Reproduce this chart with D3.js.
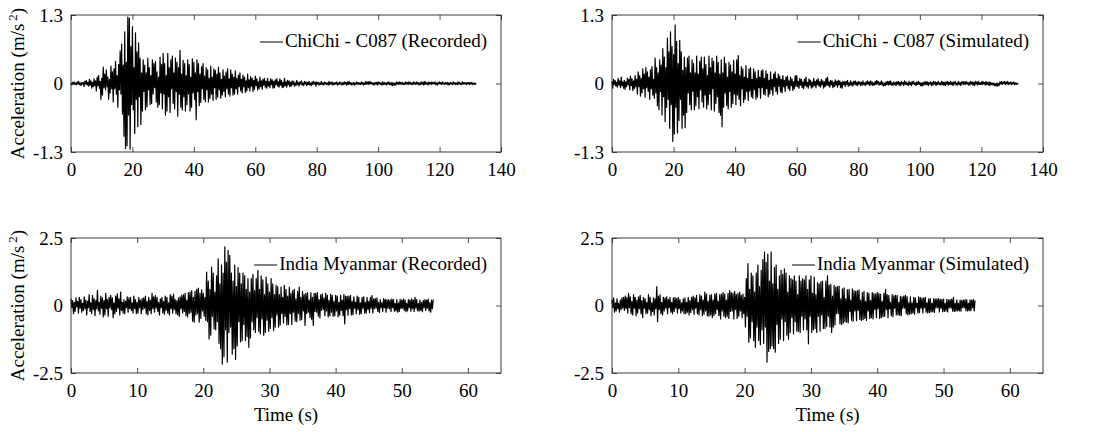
<!DOCTYPE html>
<html>
<head>
<meta charset="utf-8">
<script src="https://cdn.jsdelivr.net/npm/d3@7"></script>
<style>
  body { margin: 0; background: #fff; }
  svg text { font-family: "Liberation Serif", "Times New Roman", Tinos, serif; fill: #000; }
</style>
</head>
<body>
<svg id="chart" width="1098" height="432"></svg>
<script>
// Acceleration records in cm/s^2 (converted to m/s^2 when drawn).
// ChiChi records are sampled every 0.25 s, India-Myanmar records every 0.125 s.
const chichiDt = 0.25;
const indiaDt = 0.125;

const chichiRecorded = [
  1,-3,2,-1,3,-2,1,-2,
  3,-1,4,-2,1,-4,2,-1,
  2,-6,4,-1,6,-3,2,-5,
  8,-3,5,-9,2,-6,9,-4,
  5,-14,12,-4,15,-9,4,-30,
  10,-22,31,-8,18,-12,26,-6,
  12,-30,8,-18,33,-10,22,-35,
  28,-10,42,-20,15,-45,36,-12,
  62,-20,75,-58,35,-100,98,-123,
  40,-118,126,-60,124,-125,70,-40,
  108,-50,30,-95,96,-30,60,-82,
  77,-25,48,-78,20,-52,45,-15,
  35,-50,20,-44,48,-12,30,-40,
  15,-38,45,-20,38,-8,42,-35,
  22,-45,12,-40,50,-18,36,-48,
  57,-20,38,-60,15,-52,57,-25,
  30,-55,45,-10,52,-38,20,-48,
  48,-15,40,-62,30,-20,63,-45,
  18,-50,44,-25,38,-52,15,-40,
  45,-20,36,-52,12,-45,47,-18,
  40,-30,20,-69,45,-15,38,-42,
  18,-36,32,-10,38,-30,14,-34,
  30,-12,26,-35,10,-28,33,-20,
  12,-32,28,-8,25,-30,18,-26,
  31,-12,20,-28,8,-22,26,-15,
  14,-25,22,-10,28,-20,9,-24,
  26,-8,18,-22,12,-20,24,-10,
  10,-20,16,-6,20,-14,8,-18,
  16,-6,12,-17,5,-14,18,-8,
  7,-14,13,-5,10,-15,6,-11,
  14,-4,9,-12,3,-10,12,-6,
  5,-11,8,-3,10,-7,4,-9,
  10,-5,3,-8,9,-2,7,-9,
  4,-8,7,-2,9,-5,3,-7,
  9,-3,6,-8,2,-7,10,-4,
  3,-7,6,-2,5,-6,2,-5,
  5,-2,4,-5,1,-4,6,-2,
  2,-5,3,-1,5,-3,1,-4,
  4,-1,3,-4,2,-2,4,-3,
  1,-4,3,-2,4,-1,2,-5,
  3,-1,2,-3,1,-2,4,-2,
  1,-3,3,-1,2,-2,1,-3,
  4,-2,2,-1,3,-3,1,-2,
  2,-1,3,-3,1,-2,3,-1,
  1,-3,2,-2,3,-1,2,-3,
  3,-2,4,-1,2,-3,1,-2,
  2,-3,1,-2,3,-1,2,-2,
  1,-2,3,-1,2,-3,1,-2,
  4,-1,3,-2,4,-1,3,-1,
  2,-2,1,-3,2,-1,2,-3,
  3,-1,2,-2,1,-3,3,-2,
  2,-2,1,-3,2,-1,3,-2,
  1,-3,2,-4,1,-3,1,-3,
  3,-1,2,-2,3,-1,2,-2,
  2,-2,1,-2,3,-1,2,-2,
  3,-1,2,-2,1,-2,3,-1,
  2,-2,3,-1,2,-3,1,-2,
  3,-1,2,-3,4,-2,3,-1,
  1,-3,3,-1,2,-2,3,-1,
  2,-1,3,-2,1,-3,2,-1,
  3,-1,2,-2,3,-1,1,-2,
  2,-1,2,-3,1,-2,2,-1,
  1,-2,3,-1,2,-2,1,-2,
  3,-1,2,-2,1,-2,3,-1,
  2,-1,1,-2,2,-1,2,-2,
  2,-1,2,-2,1,-2,1,-1,
  0
];

const chichiSimulated = [
  4,-9,8,-2,6,-5,2,-7,
  10,-3,5,-8,12,-4,3,-9,
  6,-11,3,-6,10,-2,8,-12,
  14,-4,9,-13,5,-10,15,-6,
  8,-20,22,-6,15,-24,10,-18,
  28,-10,18,-26,30,-8,22,-15,
  12,-30,26,-10,32,-22,8,-28,
  48,-18,30,-42,20,-50,45,-15,
  35,-60,66,-25,50,-72,30,-45,
  86,-30,60,-85,98,-40,70,-110,
  55,-96,111,-45,80,-94,38,-70,
  82,-30,60,-85,25,-60,50,-84,
  30,-55,48,-18,52,-40,20,-50,
  45,-15,38,-50,20,-42,52,-25,
  18,-48,42,-12,50,-35,28,-45,
  50,-22,36,-48,15,-40,52,-20,
  30,-50,48,-10,42,-52,20,-38,
  52,-25,40,-55,18,-60,45,-82,
  20,-45,50,-18,38,-42,12,-48,
  40,-15,35,-45,22,-38,44,-20,
  18,-40,45,-22,53,-30,15,-42,
  32,-10,28,-36,12,-30,34,-15,
  10,-32,28,-14,30,-25,8,-28,
  28,-12,22,-30,10,-26,25,-8,
  12,-28,24,-8,26,-20,10,-22,
  24,-10,18,-25,6,-20,22,-12,
  8,-22,18,-6,22,-15,10,-20,
  18,-5,14,-16,8,-18,15,-6,
  6,-15,12,-4,14,-10,5,-13,
  12,-4,8,-13,3,-10,15,-5,
  15,-6,4,-9,10,-3,8,-8,
  3,-10,8,-4,12,-6,2,-9,
  9,-3,6,-9,2,-7,10,-4,
  4,-8,7,-2,9,-5,3,-7,
  8,-2,5,-9,3,-6,10,-3,
  12,-4,3,-7,6,-2,5,-8,
  2,-6,7,-3,4,-7,6,-2,
  5,-8,2,-9,4,-2,3,-6,
  4,-2,6,-5,1,-4,5,-3,
  2,-5,4,-1,5,-3,2,-4,
  4,-1,3,-4,2,-3,5,-2,
  1,-4,3,-2,5,-1,3,-4,
  5,-2,3,-4,1,-3,4,-2,
  6,-1,4,-3,2,-2,5,-3,
  2,-5,1,-4,3,-2,4,-3,
  4,-2,5,-3,1,-4,3,-2,
  2,-4,3,-1,4,-3,2,-4,
  4,-1,2,-4,5,-2,3,-2,
  1,-4,4,-2,2,-4,4,-1,
  4,-2,1,-4,3,-2,4,-2,
  2,-4,1,-5,2,-3,3,-2,
  4,-2,3,-4,2,-1,3,-4,
  2,-3,4,-1,3,-4,2,-2,
  4,-2,1,-3,4,-2,3,-3,
  2,-4,3,-1,4,-3,2,-2,
  4,-2,2,-4,3,-1,4,-3,
  1,-3,4,-2,2,-4,3,-1,
  4,-2,3,-2,4,-1,2,-3,
  2,-3,4,-1,3,-3,2,-4,
  4,-1,3,-3,4,-2,2,-2,
  3,-2,4,-1,2,-3,4,-2,
  2,-3,3,-4,2,-2,1,-3,
  1,-4,0,-5,1,-5,0,-4,
  3,-1,4,-2,3,0,4,-2,
  3,-1,4,-2,2,-1,3,-2,
  2,-1,3,-2,1,-2,1,-1,
  0
];

const indiaRecorded = [
  25,-8,18,-30,12,-22,28,-5,
  15,-28,30,-10,22,-25,8,-18,
  32,-12,20,-35,15,-8,40,-22,
  10,-30,38,-15,25,-38,18,-12,
  56,-20,12,-32,35,-10,28,-42,
  18,-35,45,-12,22,-40,30,-8,
  38,-15,28,-45,10,-30,35,-22,
  43,-10,25,-35,50,-18,12,-28,
  22,-30,15,-8,32,-25,28,-12,
  30,-18,10,-28,35,-12,22,-30,
  12,-28,30,-8,20,-30,26,-15,
  28,-10,35,-30,15,-35,30,-18,
  20,-30,45,-12,32,-25,38,-10,
  30,-22,12,-35,25,-8,30,-28,
  15,-32,35,-18,30,-28,10,-35,
  40,-12,35,-28,42,-15,22,-30,
  18,-35,28,-40,32,-12,38,-28,
  40,-22,45,-38,20,-42,48,-30,
  50,-25,55,-58,30,-62,52,-35,
  60,-30,64,-62,45,-48,58,-20,
  45,-40,30,-55,124,-60,90,-124,
  60,-110,142,-40,120,-87,50,-90,
  110,-60,173,-140,80,-160,150,-217,
  120,-190,217,-90,160,-210,204,-100,
  186,-80,120,-180,90,-160,150,-200,
  70,-150,140,-60,120,-135,80,-130,
  120,-70,110,-130,60,-115,100,-155,
  50,-120,100,-60,115,-90,55,-100,
  100,-45,130,-95,60,-105,110,-50,
  95,-110,40,-100,105,-55,80,-95,
  50,-85,100,-45,80,-93,40,-80,
  75,-35,70,-80,40,-72,68,-30,
  30,-65,75,-40,60,-72,35,-70,
  68,-30,45,-70,55,-25,60,-58,
  25,-60,52,-30,68,-55,30,-52,
  52,-20,40,-74,45,-30,48,-25,
  20,-45,48,-52,30,-74,45,-22,
  45,-25,48,-40,22,-46,40,-18,
  42,-15,28,-38,45,-20,38,-42,
  18,-38,42,-25,38,-40,15,-38,
  38,-20,35,-42,12,-36,38,-18,
  20,-38,40,-68,35,-15,34,-36,
  35,-12,38,-35,15,-34,32,-10,
  12,-30,35,-15,30,-32,10,-30,
  30,-10,32,-28,12,-28,30,-15,
  15,-26,30,-10,37,-28,25,-12,
  26,-10,28,-22,12,-26,22,-8,
  10,-22,26,-8,23,-25,21,-10,
  22,-12,20,-22,25,-8,22,-21,
  8,-20,22,-25,10,-22,23,-12,
  20,-10,24,-18,21,-23,8,-20,
  22,-8,20,-21,25,-12,20,-22,
  30,-10,22,-19,8,-21,20,-18,
  12,-23,19,-8,22,-18,20,-10,
  24,-20,10,-25,20,-12,22
];

const indiaSimulated = [
  22,-8,28,-25,10,-20,25,-12,
  8,-25,20,-15,28,-10,30,-18,
  35,-12,30,-28,45,-8,32,-30,
  15,-35,40,-10,30,-38,20,-28,
  32,-12,38,-30,18,-45,30,-10,
  25,-30,12,-28,40,-15,30,-38,
  10,-22,28,-35,25,-12,70,-60,
  35,-15,40,-30,12,-35,30,-20,
  28,-10,32,-30,22,-8,30,-25,
  12,-30,28,-22,30,-10,26,-28,
  30,-12,22,-28,10,-20,25,-30,
  28,-30,12,-25,30,-35,18,-26,
  30,-15,35,-32,28,-10,38,-30,
  12,-35,40,-15,35,-38,20,-32,
  50,-20,42,-38,15,-40,38,-35,
  40,-45,20,-38,42,-30,45,-15,
  15,-38,40,-50,42,-20,48,-40,
  42,-45,20,-40,45,-48,55,-22,
  48,-20,45,-50,52,-15,40,-48,
  45,-40,50,-20,38,-45,42,-30,
  30,-80,100,-40,155,-136,60,-120,
  120,-60,110,-130,50,-155,120,-80,
  150,-130,70,-145,130,-90,170,-140,
  198,-80,160,-210,190,-170,90,-160,
  198,-150,80,-160,140,-173,150,-70,
  60,-140,110,-125,130,-50,115,-130,
  136,-60,120,-110,50,-125,110,-100,
  100,-45,95,-105,110,-60,90,-95,
  40,-95,110,-100,90,-40,100,-90,
  95,-50,110,-90,60,-142,95,-40,
  110,-100,45,-90,105,-85,40,-100,
  85,-40,80,-95,88,-35,90,-85,
  30,-85,90,-78,110,-40,75,-80,
  78,-100,35,-80,75,-72,68,-30,
  70,-30,72,-68,25,-70,62,-66,
  65,-60,25,-62,58,-64,60,-22,
  20,-55,62,-58,55,-20,52,-56,
  55,-18,58,-52,20,-55,48,-52,
  52,-48,15,-55,48,-20,45,-48,
  18,-45,48,-50,44,-15,42,-45,
  48,-12,45,-48,42,-44,15,-42,
  45,-40,60,-15,40,-45,38,-12,
  12,-38,40,-42,36,-10,38,-35,
  38,-35,12,-36,34,-38,32,-10,
  35,-10,38,-30,33,-35,10,-32,
  32,-30,10,-28,30,-32,28,-8,
  8,-28,32,-26,29,-10,27,-28,
  28,-8,30,-25,10,-28,25,-26,
  26,-24,8,-23,25,-26,24,-8,
  25,-8,26,-24,23,-10,22,-23,
  24,-22,8,-20,23,-24,21,-8,
  22,-10,24,-21,30,-22,8,-21,
  21,-19,8,-20,20,-21,19,-8,
  20,-8,22,-19,21,-20,8,-19,
  21,-19,20,-8,22,-20,19
];

// Axis ticks and labels
const chichiTimeTicks = [0, 20, 40, 60, 80, 100, 120, 140];
const indiaTimeTicks = [0, 10, 20, 30, 40, 50, 60];
const chichiAccTicks = [-1.3, 0, 1.3];
const indiaAccTicks = [-2.5, 0, 2.5];
const legendLabels = [
  "ChiChi - C087 (Recorded)",
  "ChiChi - C087 (Simulated)",
  "India Myanmar (Recorded)",
  "India Myanmar (Simulated)"
];

const panels = [
  { values: chichiRecorded, dt: chichiDt, xMax: 140, xTicks: chichiTimeTicks, yTicks: chichiAccTicks,
    label: legendLabels[0], left: 71, top: 15, width: 430, height: 137, yTitle: true, xTitle: false },
  { values: chichiSimulated, dt: chichiDt, xMax: 140, xTicks: chichiTimeTicks, yTicks: chichiAccTicks,
    label: legendLabels[1], left: 612, top: 15, width: 431, height: 137, yTitle: false, xTitle: false },
  { values: indiaRecorded, dt: indiaDt, xMax: 65, xTicks: indiaTimeTicks, yTicks: indiaAccTicks,
    label: legendLabels[2], left: 71, top: 238, width: 430, height: 135, yTitle: true, xTitle: true },
  { values: indiaSimulated, dt: indiaDt, xMax: 65, xTicks: indiaTimeTicks, yTicks: indiaAccTicks,
    label: legendLabels[3], left: 612, top: 238, width: 431, height: 135, yTitle: false, xTitle: true }
];

const svg = d3.select("#chart");
const axisColor = "#262626";
const fontSize = 19;
const serif = "'Liberation Serif', 'Times New Roman', Tinos, serif";

panels.forEach(p => {
  const g = svg.append("g").attr("transform", `translate(${p.left},${p.top})`);
  const x = d3.scaleLinear().domain([0, p.xMax]).range([0, p.width]);
  const yMax = p.yTicks[p.yTicks.length - 1];
  const y = d3.scaleLinear().domain([-yMax, yMax]).range([p.height, 0]);

  // acceleration trace
  const line = d3.line()
    .x((d, i) => x(i * p.dt))
    .y(d => y(d / 100));
  g.append("path")
    .datum(p.values)
    .attr("d", line)
    .attr("fill", "none")
    .attr("stroke", "#000")
    .attr("stroke-width", 1.2)
    .attr("stroke-linejoin", "round");

  const styleAxis = sel => {
    sel.attr("font-family", serif).attr("font-size", fontSize);
    sel.select(".domain").remove();
    sel.selectAll(".tick line").attr("stroke", axisColor).attr("stroke-width", 0.8);
    sel.selectAll(".tick text").attr("fill", "#000");
  };

  // inward ticks on all four sides
  g.append("g").attr("transform", `translate(0,${p.height})`)
    .call(d3.axisBottom(x).tickValues(p.xTicks).tickSize(-5).tickSizeOuter(0).tickPadding(11)
      .tickFormat(d3.format("d")))
    .call(styleAxis);
  g.append("g")
    .call(d3.axisTop(x).tickValues(p.xTicks).tickSize(-5).tickSizeOuter(0).tickFormat(""))
    .call(styleAxis);
  g.append("g")
    .call(d3.axisLeft(y).tickValues(p.yTicks).tickSize(-5).tickSizeOuter(0).tickPadding(8)
      .tickFormat(d => d === 0 ? "0" : String(d)))
    .call(styleAxis);
  g.append("g").attr("transform", `translate(${p.width},0)`)
    .call(d3.axisRight(y).tickValues(p.yTicks).tickSize(-5).tickSizeOuter(0).tickFormat(""))
    .call(styleAxis);

  // axes box
  g.append("rect")
    .attr("width", p.width).attr("height", p.height)
    .attr("fill", "none").attr("stroke", axisColor).attr("stroke-width", 0.9);

  // legend: short line sample followed by the record name
  const legendText = g.append("text")
    .attr("x", p.width - 14).attr("y", 32)
    .attr("text-anchor", "end")
    .attr("font-family", serif)
    .attr("font-size", fontSize)
    .text(p.label);
  const tw = legendText.node().getComputedTextLength();
  const tx = p.width - 14 - tw;
  g.append("line")
    .attr("x1", tx - 25).attr("x2", tx - 2)
    .attr("y1", 27).attr("y2", 27)
    .attr("stroke", "#000").attr("stroke-width", 1);

  if (p.yTitle) {
    const t = g.append("text")
      .attr("transform", `translate(${24 - p.left},${p.height / 2}) rotate(-90)`)
      .attr("text-anchor", "middle")
      .attr("font-family", serif)
      .attr("font-size", fontSize);
    t.append("tspan").text("Acceleration (m/s");
    t.append("tspan").attr("dx", 3).attr("dy", -7).attr("font-size", 13).text("2");
    t.append("tspan").attr("dy", 7).text(")");
  }
  if (p.xTitle) {
    g.append("text")
      .attr("x", p.width / 2).attr("y", p.height + 48)
      .attr("text-anchor", "middle")
      .attr("font-family", serif)
      .attr("font-size", fontSize)
      .text("Time (s)");
  }
});
</script>
</body>
</html>
